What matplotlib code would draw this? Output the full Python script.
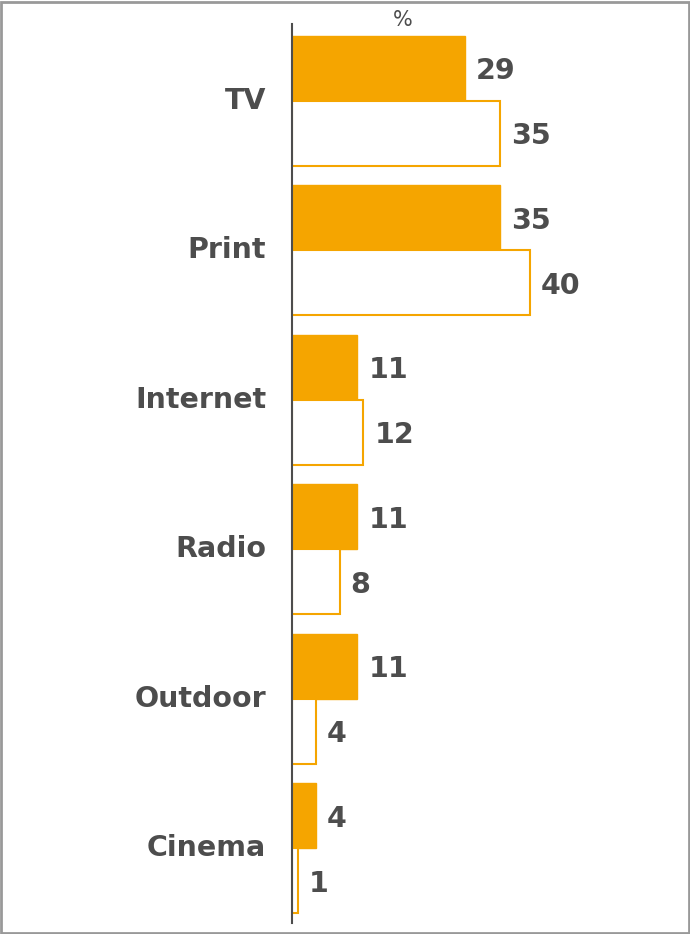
import numpy as np
import matplotlib
matplotlib.use('Agg')
import matplotlib.pyplot as plt
from matplotlib.patches import Rectangle

# Chart data
categories = ['TV', 'Print', 'Internet', 'Radio', 'Outdoor', 'Cinema']
filled_values = [29, 35, 11, 11, 11, 4]
outline_values = [35, 40, 12, 8, 4, 1]

orange = '#F5A500'
text_grey = '#4D4D4D'
plt.rcParams['font.family'] = ['DejaVu Sans']

fig = plt.figure(figsize=(6.9, 9.34), dpi=100)
W, H = 690, 934
ax = fig.add_axes([292 / W, 11 / H, 357 / W, 899 / H])

y = np.arange(len(categories))
bar_h = 0.435

# filled bars above the category centre, outlined ones below
rects1 = ax.barh(y - bar_h / 2, filled_values, bar_h, color=orange, edgecolor=orange)
rects2 = ax.barh(y + bar_h / 2, outline_values, bar_h, color='white', edgecolor=orange, linewidth=1.5)

ax.set_xlim(0, 60)
ax.set_ylim(5.5, -0.515)

for spine in ['top', 'right', 'bottom']:
    ax.spines[spine].set_visible(False)
ax.spines['left'].set_color(text_grey)
ax.spines['left'].set_linewidth(1.5)
ax.set_xticks([])
ax.set_yticks([])
ax.patch.set_alpha(0)

# category labels on the left
for i, name in enumerate(categories):
    ax.annotate(name, xy=(0, i), xytext=(-26, 0), textcoords='offset pixels',
                ha='right', va='center', fontsize=20.5, fontweight='bold', color=text_grey)


def quick_label(rects, values):
    """Puts the value just right of each bar."""
    for rect, v in zip(rects, values):
        ax.annotate('{}'.format(v), xy=(rect.get_width(), rect.get_y() + rect.get_height() / 2),
                    xytext=(11, -3), textcoords='offset pixels',
                    ha='left', va='center', fontsize=20.5, fontweight='bold', color=text_grey)


quick_label(rects1, filled_values)
quick_label(rects2, outline_values)

fig.text(403 / W, 1 - 20 / H, '%', ha='center', va='center', fontsize=15, color=text_grey)

# grey frame around the whole picture
fig.patches.append(Rectangle((0.001, 0.001), 0.997, 0.997, transform=fig.transFigure,
                             fill=False, edgecolor='#999999', linewidth=2))

fig.savefig('out.png', dpi=100)
